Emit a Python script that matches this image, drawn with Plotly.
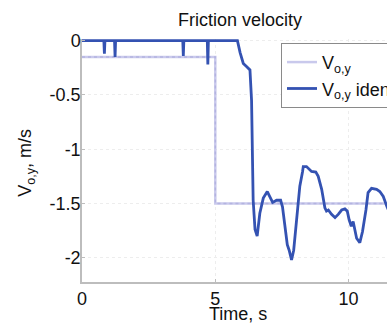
import plotly.graph_objects as go

# Reference (commanded) friction velocity
ref_time = [0, 5.0, 5.0, 11.8]
ref_vel = [-0.15, -0.15, -1.5, -1.5]

# Identified friction velocity
id_time = [0, 0.82, 0.84, 0.86, 1.22, 1.24, 1.26, 3.78, 3.80, 3.82, 4.70, 4.72, 4.74,
           5.83, 5.93, 6.05, 6.18, 6.30, 6.36, 6.42, 6.49, 6.57, 6.67, 6.80, 6.95, 7.05,
           7.15, 7.30, 7.45, 7.52, 7.61, 7.70, 7.77, 7.86, 7.94, 8.05, 8.17, 8.27, 8.30,
           8.42, 8.61, 8.77, 8.86, 8.99, 9.11, 9.17, 9.24, 9.36, 9.49, 9.61, 9.74, 9.86,
           9.95, 10.02, 10.10, 10.17, 10.24, 10.30, 10.42, 10.52, 10.65, 10.73, 10.86,
           11.05, 11.17, 11.30, 11.44, 11.6]
id_vel = [0, 0, -0.12, 0, 0, -0.15, 0, 0, -0.14, 0, 0, -0.22, 0,
          0, -0.11, -0.21, -0.24, -0.27, -0.55, -1.47, -1.74, -1.80, -1.59, -1.45, -1.39, -1.435,
          -1.49, -1.47, -1.47, -1.53, -1.71, -1.88, -1.93, -2.02, -1.93, -1.65, -1.34, -1.21, -1.16,
          -1.16, -1.205, -1.21, -1.25, -1.37, -1.54, -1.57, -1.56, -1.60, -1.63, -1.60, -1.56, -1.55,
          -1.57, -1.65, -1.71, -1.665, -1.74, -1.82, -1.86, -1.76, -1.56, -1.40, -1.36,
          -1.37, -1.39, -1.435, -1.53, -1.62]

x_ticks = [0, 5, 10]
y_ticks = [0, -0.5, -1, -1.5, -2]
y_tick_labels = ["0", "-0.5", "-1", "-1.5", "-2"]

FONT = "Liberation Sans, Arial, sans-serif"

fig = go.Figure()
fig.add_trace(go.Scatter(x=ref_time, y=ref_vel, mode="lines",
                         line=dict(color="#c9c9ec", width=2.5),
                         name="V<sub>o,y</sub>"))
fig.add_trace(go.Scatter(x=ref_time, y=ref_vel, mode="lines",
                         line=dict(color="#b4b4e0", width=1.5, dash="dot"),
                         showlegend=False, hoverinfo="skip"))
fig.add_trace(go.Scatter(x=id_time, y=id_vel, mode="lines",
                         line=dict(color="#3452b2", width=2.8),
                         name="V<sub>o,y</sub> identified"))

fig.update_layout(
    width=387, height=323,
    margin=dict(l=82, r=0, t=39, b=41, autoexpand=False),
    paper_bgcolor="white", plot_bgcolor="white",
    font=dict(family=FONT, size=18, color="#111111"),
    showlegend=True,
    legend=dict(x=0.6525, y=0.984, xanchor="left", yanchor="top",
                bgcolor="white", bordercolor="#8a8a8a", borderwidth=1,
                font=dict(size=18), itemwidth=30, tracegroupgap=0),
    annotations=[
        dict(text="Friction velocity", xref="paper", yref="paper",
             x=(240 - 82) / 305, y=1 + 19 / 243, xanchor="center", yanchor="middle",
             showarrow=False, font=dict(size=18)),
        dict(text="Time, s", xref="paper", yref="paper",
             x=(238 - 82) / 305, y=-(314 - 282) / 243, xanchor="center", yanchor="middle",
             showarrow=False, font=dict(size=18)),
        dict(text="V<sub>o,y</sub>, m/s", xref="paper", yref="paper", textangle=-90,
             x=(27 - 82) / 305, y=1 - (163 - 39) / 243.3, xanchor="center", yanchor="middle",
             showarrow=False, font=dict(size=18)),
    ],
)
fig.update_xaxes(range=[0, 11.44], tickvals=x_ticks, ticktext=[str(v) for v in x_ticks],
                 showline=True, linecolor="#bdbdbd", linewidth=1.5,
                 ticks="inside", ticklen=3, tickcolor="#bdbdbd",
                 showgrid=True, gridcolor="#ededed", griddash="dot", gridwidth=1,
                 zeroline=False, tickfont=dict(size=18))
fig.update_yaxes(range=[-2.223, 0.015], tickvals=y_ticks, ticktext=y_tick_labels,
                 showline=True, linecolor="#bdbdbd", linewidth=1.5,
                 ticks="inside", ticklen=3, tickcolor="#bdbdbd", ticklabelstandoff=-4,
                 showgrid=True, gridcolor="#ededed", griddash="dot", gridwidth=1,
                 zeroline=False, tickfont=dict(size=18))

fig.write_html("out.html", config={"displayModeBar": False},
               post_script="document.body.style.margin='0';document.body.style.overflow='hidden';")
